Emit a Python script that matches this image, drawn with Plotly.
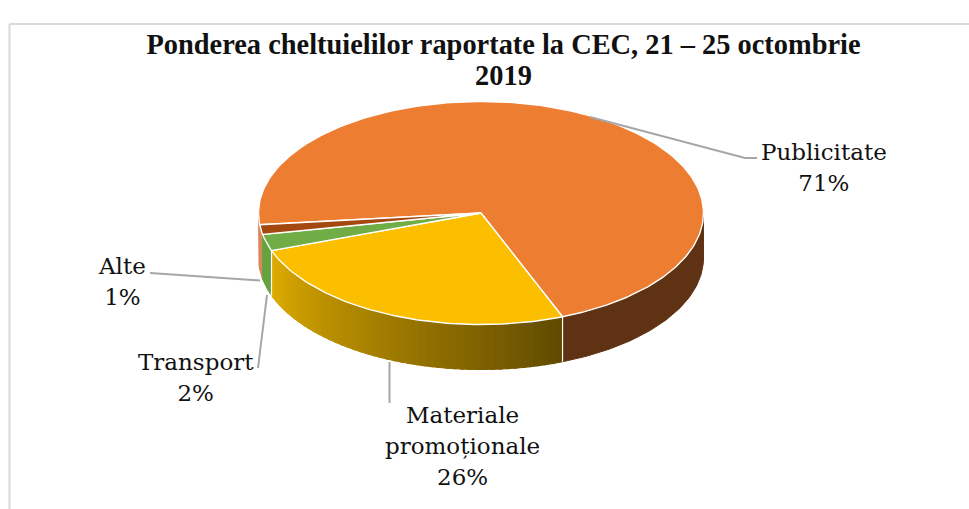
import math
import plotly.graph_objects as go

# ---- data (share of spending, %)
categories = ["Publicitate", "Materiale<br>promoționale", "Transport", "Alte"]
values = [70.7, 25.5, 2.4, 1.4]
title_lines = ["Ponderea cheltuielilor raportate la CEC, 21 – 25 octombrie", "2019"]

top_colors = ["#ED7D31", "#FCBF00", "#70AD47", "#A5480F"]

# ---- view of the tilted disc, in page pixels
W, H = 969, 509
CX, CY, RX, RY, DEPTH = 481, 213, 222.5, 111.5, 45
START = 68.5  # angle where the first slice ends; the others follow it
SERIF = "DejaVu Serif"


def pt(t, drop=0):
    a = math.radians(t)
    return CX + RX * math.cos(a), CY + RY * math.sin(a) + drop


def mix(c1, c2, f):
    return "#%02x%02x%02x" % tuple(round(a + (b - a) * f) for a, b in zip(c1, c2))


# slice angular spans: first slice ends at START, the rest run on from there
spans = [(START - values[0] * 3.6, START)]
pos = START
for v in values[1:]:
    spans.append((pos, pos + v * 3.6))
    pos += v * 3.6


def add_wall(lo, hi, col):
    n = max(2, int(hi - lo))
    ts = [lo + (hi - lo) * k / n for k in range(n + 1)]
    p = [pt(t) for t in ts] + [pt(t, DEPTH) for t in reversed(ts)] + [pt(lo)]
    fig.add_trace(go.Scatter(
        x=[q[0] for q in p], y=[q[1] for q in p], mode="lines",
        fill="toself", fillcolor=col, line=dict(color=col, width=1),
        hoverinfo="skip", showlegend=False))


fig = go.Figure()

# side wall, only for the front half of the disc
a0, b0 = spans[0]
add_wall(0, b0, "#5f3214")                # right part of slice 0
add_wall(a0 + 360, 180, "#d8895a")        # left part of slice 0
add_wall(spans[3][0], spans[3][1], "#d8895a")
add_wall(spans[2][0], spans[2][1], "#68a23f")
# shaded wall of the second slice, as overlapping strips
lo, hi = spans[1]
n = 46
for k in range(n):
    t0 = lo + (hi - lo) * k / n
    t1 = lo + (hi - lo) * (k + 1) / n
    f = 1 - k / (n - 1)
    add_wall(t0, min(t1 + 1, hi), mix((221, 171, 0), (98, 75, 0), f))

# white vertical edges between wall segments
for t in (spans[1][0], spans[1][1]):
    p0, p1 = pt(t), pt(t, DEPTH)
    fig.add_trace(go.Scatter(
        x=[p0[0], p1[0]], y=[p0[1], p1[1]], mode="lines",
        line=dict(color="#ffffff", width=1.2),
        hoverinfo="skip", showlegend=False))

# top face
for i, (a, b) in enumerate(spans):
    n = max(2, int(b - a))
    arc = [pt(a + (b - a) * k / n) for k in range(n + 1)]
    p = [(CX, CY)] + arc + [(CX, CY)]
    fig.add_trace(go.Scatter(
        x=[q[0] for q in p], y=[q[1] for q in p], mode="lines",
        fill="toself", fillcolor=top_colors[i],
        line=dict(color="#ffffff", width=1.4),
        name=categories[i].replace("<br>", " "),
        text=f"{round(values[i])}%", hoverinfo="name+text", showlegend=False))

# leader lines
leaders = [
    ([590, 745, 757], [117, 158, 158]),
    ([389.5, 389.5], [362, 403]),
    ([258, 267], [368, 295]),
    ([150, 260], [273, 280.5]),
]
for lx, ly in leaders:
    fig.add_trace(go.Scatter(x=lx, y=ly, mode="lines",
                             line=dict(color="#a6a6a6", width=2),
                             hoverinfo="skip", showlegend=False))

# labels, centred at these page positions
label_pos = [(824, 167), (462, 446), (196, 377), (122, 281)]
for i, (lx, ly) in enumerate(label_pos):
    txt = f"{categories[i]}<br>{round(values[i])}%"
    txt = "<br>".join(f'<span style="font-size:23px">{s}</span>' for s in txt.split("<br>"))
    fig.add_annotation(x=lx, y=ly, xref="x", yref="y", showarrow=False, text=txt,
                       font=dict(family=SERIF, size=24, color="#111111"),
                       align="center")

fig.add_shape(type="line", x0=9.5, x1=9.5, y0=24, y1=H, xref="x", yref="y",
              line=dict(color="#d9d9d9", width=2))
fig.add_shape(type="line", x0=9.5, x1=W, y0=24, y1=24, xref="x", yref="y",
              line=dict(color="#d9d9d9", width=2))

title_text = "<br>".join(f'<span style="font-size:28.4px">{s}</span>' for s in title_lines)
fig.update_layout(
    width=W, height=H, margin=dict(l=0, r=0, t=0, b=0),
    paper_bgcolor="#ffffff", plot_bgcolor="#ffffff",
    xaxis=dict(range=[0, W], visible=False, fixedrange=True),
    yaxis=dict(range=[H, 0], visible=False, fixedrange=True),
    title=dict(text=title_text, x=503.5 / W, xanchor="center",
               y=1 - 54 / H, yanchor="top",
               font=dict(family="Liberation Serif", size=24, color="#111111",
                         weight="bold")),
)

fig.write_html("out.html", post_script="document.body.style.margin='0';",
               config={"displayModeBar": False})
